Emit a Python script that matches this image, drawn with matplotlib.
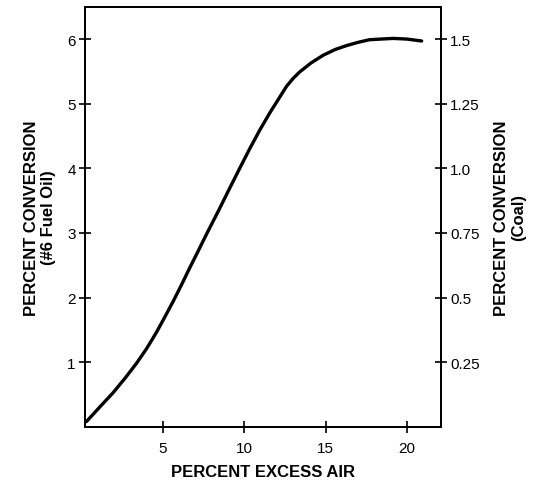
import numpy as np
import matplotlib.pyplot as plt

# values
excess_air = [0.3, 1.1, 1.95, 2.7, 3.4, 4.0, 4.6, 5.1, 5.65, 6.15, 6.65,
              7.15, 7.7, 8.45, 9.1, 9.7, 10.35, 10.95, 11.55, 12.1, 12.6,
              13.0, 13.4, 14.1, 14.85, 15.6, 16.3, 17.0, 17.7, 18.4, 19.15,
              20.0, 20.9]
conv_oil = [0.08, 0.30, 0.53, 0.76, 0.99, 1.21, 1.46, 1.69, 1.95, 2.20, 2.46,
            2.71, 2.99, 3.36, 3.69, 3.99, 4.31, 4.59, 4.85, 5.07, 5.27,
            5.39, 5.49, 5.63, 5.75, 5.84, 5.90, 5.95, 5.99, 6.00, 6.01,
            6.00, 5.97]

x_ticks = [5, 10, 15, 20]
oil_ticks = [1, 2, 3, 4, 5, 6]
coal_ticks = [0.25, 0.5, 0.75, 1.0, 1.25, 1.5]
coal_labels = ["0.25", "0.5", "0.75", "1.0", "1.25", "1.5"]

plt.rcParams['font.family'] = ['Liberation Sans', 'DejaVu Sans']

fig = plt.figure(figsize=(5.4, 4.85), dpi=100)
ax = fig.add_axes([0.157, 0.118, 0.66, 0.866])

ax.plot(excess_air, conv_oil, color='black', linewidth=2.4,
        solid_capstyle='round', solid_joinstyle='round')
ax.set_xlim(0.2, 22.1)
ax.set_ylim(0, 6.5)
ax.set_xticks(x_ticks)
ax.set_yticks(oil_ticks)
ax.tick_params(direction='inout', length=9, width=1.2, labelsize=11)
ax.tick_params(axis='y', pad=2)
ax.tick_params(axis='x', pad=6)

ax.set_xlabel("PERCENT EXCESS AIR", fontsize=12, fontweight='bold',
              labelpad=6)
ax.set_ylabel("PERCENT CONVERSION\n(#6 Fuel Oil)", fontsize=12,
              fontweight='bold', labelpad=8)

ax2 = ax.twinx()
ax2.set_ylim(0, 6.5 / 4)
ax2.set_yticks(coal_ticks)
ax2.set_yticklabels(coal_labels)
ax2.tick_params(direction='inout', length=9, width=1.2, labelsize=11, pad=2)
ax2.set_ylabel("PERCENT CONVERSION\n(Coal)", fontsize=12, fontweight='bold',
               rotation=90, labelpad=10)

for a in (ax, ax2):
    for s in a.spines.values():
        s.set_linewidth(1.3)

plt.savefig("out.png", dpi=100)
plt.close()
